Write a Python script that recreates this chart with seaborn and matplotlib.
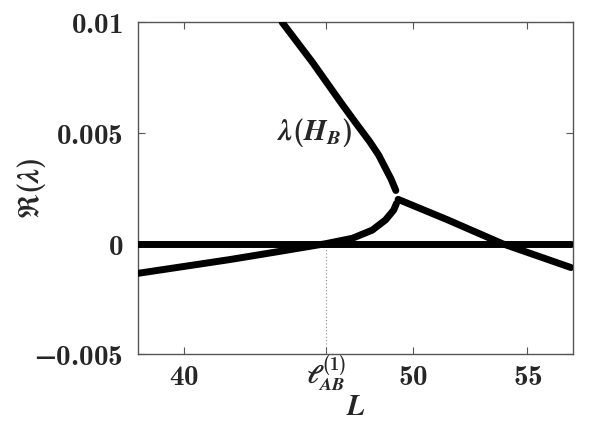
import matplotlib
matplotlib.use("Agg")
import numpy as np
import pandas as pd
import matplotlib.pyplot as plt
import matplotlib.transforms as mtransforms
import seaborn as sns

# --- valores ---
upper_L = [44.28, 45.6, 46.9, 47.5, 48.1, 48.5, 48.8, 49.05, 49.25]
upper_re = [0.0100, 0.0082, 0.0063, 0.00545, 0.00462, 0.0040, 0.0034, 0.0029, 0.0024]

lower_L = [38.0, 40.0, 42.0, 44.0, 46.2, 47.35, 48.22, 48.8, 49.16, 49.28]
lower_re = [-0.00134, -0.00103, -0.00072, -0.00038, 0.0, 0.00024, 0.00061, 0.00107, 0.00152, 0.00182]

right_L = [49.35, 51.5, 53.9, 56.9]
right_re = [0.0020, 0.00108, 0.0, -0.00108]

zero_L = [38.0, 56.9]
zero_re = [0.0, 0.0]

l_ab = 46.2
x_ticks = [40, l_ab, 50, 55]
x_labels = [r'$\mathbf{40}$', '', r'$\mathbf{50}$', r'$\mathbf{55}$']
l_ab_label = r'$\ell^{(\mathbf{1})}_{AB}$'
y_ticks = [-0.005, 0, 0.005, 0.01]
y_labels = [r'$\mathbf{-0.005}$', r'$\mathbf{0}$', r'$\mathbf{0.005}$', r'$\mathbf{0.01}$']

sns.set_style('ticks')
plt.rcParams['mathtext.fontset'] = 'custom'
plt.rcParams['mathtext.rm'] = 'cmb10'
plt.rcParams['mathtext.bf'] = 'cmb10'
plt.rcParams['mathtext.it'] = 'STIXGeneral:italic:bold'
plt.rcParams['mathtext.fallback'] = 'stix'
plt.rcParams['font.family'] = ['DejaVu Serif']

fig = plt.figure(figsize=(6.15, 4.23), dpi=100)
ax = fig.add_axes([0.225, 0.1624, 0.707, 0.785])

# linhas de referencia pontilhadas
ax.plot([38, 57], [0, 0], color='#888888', lw=0.8, ls=(0, (1, 2)), zorder=1)
ax.plot([l_ab, l_ab], [-0.005, 0], color='#888888', lw=0.8, ls=(0, (1, 2)), zorder=1)

curves = [(zero_L, zero_re), (upper_L, upper_re), (lower_L, lower_re), (right_L, right_re)]
for xs, ys in curves:
    df = pd.DataFrame({'L': xs, 're': ys})
    sns.lineplot(data=df, x='L', y='re', ax=ax, color='black', lw=5,
                 solid_capstyle='round', solid_joinstyle='round', sort=False, zorder=3)

ax.text(45.7, 0.005, r'$\lambda(H_B)$', fontsize=21, ha='center', va='center')

ax.set_xlim(38, 57)
ax.set_ylim(-0.005, 0.01)
ax.set_xticks(x_ticks)
ax.set_xticklabels(x_labels, fontsize=21)
ax.set_yticks(y_ticks)
ax.set_yticklabels(y_labels, fontsize=21)
ax.tick_params(direction='in', top=True, right=True, length=5, width=0.8, color='#555555')
ax.tick_params(axis='x', pad=6)
ax.tick_params(axis='y', pad=11)
for s in ax.spines.values():
    s.set_color('#555555')
    s.set_linewidth(1.0)

# rotulo especial do tick em l_AB
trans = mtransforms.blended_transform_factory(ax.transData, ax.transAxes)
ax.text(l_ab, -0.057, l_ab_label, fontsize=19, ha='center', va='center',
        transform=trans, clip_on=False)

ax.set_xlabel(r'$L$', fontsize=21)
ax.xaxis.set_label_coords(0.5, -0.16)
ax.xaxis.label.set_verticalalignment('center')
ax.set_ylabel(r'$\Re(\lambda)$', fontsize=21)
ax.yaxis.set_label_coords(-0.246, 0.5)
ax.yaxis.label.set_verticalalignment('center')

fig.savefig('out.png', dpi=100)
